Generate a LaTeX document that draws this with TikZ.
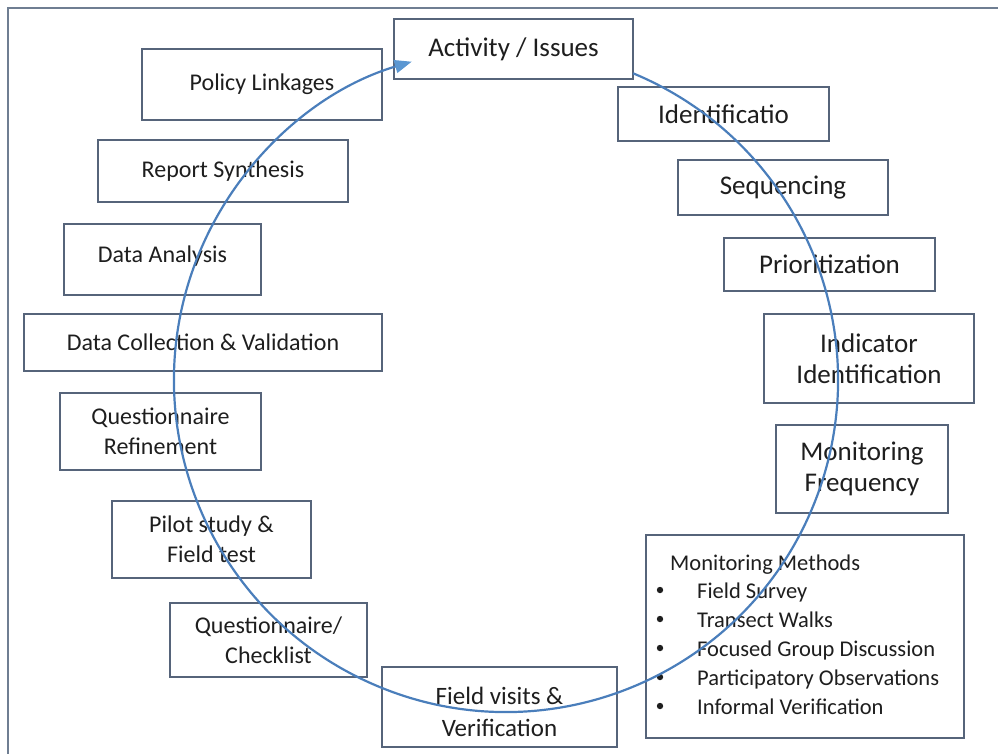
\documentclass[tikz,border=0pt]{standalone}
\usepackage{fontspec}
\setmainfont{Carlito}
\usetikzlibrary{arrows.meta}
\definecolor{boxline}{HTML}{56647A}
\definecolor{frameline}{HTML}{6F7E92}
\definecolor{cycleblue}{HTML}{4A7EBB}
\definecolor{tipblue}{HTML}{5B97D2}
\definecolor{ink}{HTML}{1E1E1E}
\begin{document}
\begin{tikzpicture}[x=1pt,y=1pt,
  stage/.style={draw=boxline, line width=1.4pt, rectangle, align=center,
                text=ink, inner sep=0pt},
  lfont/.style={font=\fontsize{24}{30}\selectfont},
  rfont/.style={font=\fontsize{27}{31}\selectfont},
  mfont/.style={font=\fontsize{22.5}{29}\selectfont, text=ink, inner sep=0pt}]
\useasboundingbox (0,0) rectangle (998,-753);
\clip (0,0) rectangle (998,-753);
% outer frame
\draw[frameline, line width=1.4pt] (8,-770) -- (8,-8) -- (1015,-8);

% start of the cycle
\node[stage, rfont, minimum width=239pt, minimum height=60pt] (act) at (513.5,-49) {Activity / Issues};

% left-hand stages
\node[stage, lfont, minimum width=240pt, minimum height=71pt] (pol) at (262,-84.5) {Policy Linkages};
\node[stage, lfont, minimum width=250pt, minimum height=62pt] (rep) at (223,-171) {Report Synthesis};
\node[stage, lfont, minimum width=197pt, minimum height=71pt] (ana) at (162.5,-259.5) {};
\node[lfont, text=ink, inner sep=0pt] (anat) at ([yshift=3pt]ana.center) {Data Analysis};
\node[stage, lfont, minimum width=358pt, minimum height=57pt] (col) at (203,-342.5) {Data Collection \& Validation};
\node[stage, lfont, minimum width=201pt, minimum height=77pt] (qref) at (160.5,-431.5) {Questionnaire\\Refinement};
\node[stage, lfont, minimum width=199pt, minimum height=77pt] (pil) at (211.5,-539.5) {Pilot study \&\\Field test};
\node[stage, lfont, minimum width=197pt, minimum height=74pt] (qch) at (268.5,-640) {Questionnaire/\\Checklist};
\node[stage, minimum width=235pt, minimum height=80pt] (fv) at (499.5,-707) {};
\node[font=\fontsize{25}{32}\selectfont, align=center, text=ink, inner sep=0pt]
  (fvt) at ([yshift=-5pt]fv.center) {Field visits \&\\Verification};

% right-hand stages
\node[stage, rfont, minimum width=211pt, minimum height=54pt] (ide) at (723.5,-114) {Identificatio};
\node[stage, rfont, minimum width=210pt, minimum height=55pt] (seq) at (783,-187.5) {Sequencing};
\node[stage, rfont, minimum width=211pt, minimum height=53pt] (pri) at (829.5,-264.5) {Prioritization};
\node[stage, rfont, minimum width=210pt, minimum height=89pt] (ind) at (869,-358.5) {Indicator\\Identification};
\node[stage, rfont, minimum width=172pt, minimum height=88pt] (mfr) at (862,-469) {Monitoring\\Frequency};

% monitoring methods list
\node[stage, minimum width=318pt, minimum height=203pt] (mme) at (805,-636.5) {};
\node[mfont, anchor=base west] (mmh) at (670,-570) {Monitoring Methods};
\foreach \t [count=\i] in {Field Survey, Transect Walks, Focused Group Discussion,
                           Participatory Observations, Informal Verification} {
  \fill[ink] (660,-561-29*\i) circle (3.2pt);
  \node[mfont, anchor=base west] (mi\i) at (697,-569-29*\i) {\t};
}

% the cycle arrow
\coordinate (hub) at (506,-380);
\draw[cycleblue, line width=2.2pt, -{Triangle[length=17pt,width=13pt,color=tipblue]}]
  ([shift={(67.5:332pt)}]hub) arc[start angle=67.5, end angle=-253.5, radius=332pt];
\end{tikzpicture}
\end{document}
